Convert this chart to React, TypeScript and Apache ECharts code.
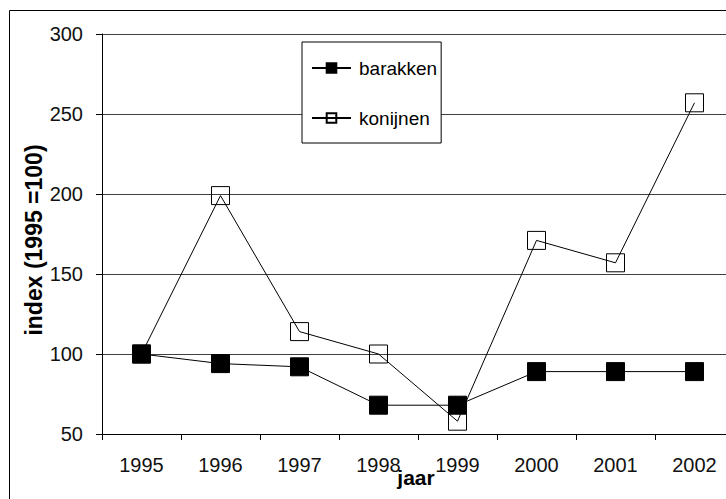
import React, { useEffect, useRef } from "react";
import * as echarts from "echarts";

const years = ["1995", "1996", "1997", "1998", "1999", "2000", "2001", "2002"];
const barakken = [100, 94, 92, 68, 68, 89, 89, 89];
const konijnen = [100, 199, 114, 100, 58, 171, 157, 257];
const yMin = 50;
const yMax = 300;
const yInterval = 50;
const yTitle = "index (1995 =100)";
const xTitle = "jaar";

const FONT = '"Liberation Sans", Arial, sans-serif';

export default function App() {
  const ref = useRef<HTMLDivElement>(null);
  useEffect(() => {
    const chart = echarts.init(ref.current!, null, { renderer: "svg" });
    chart.setOption({
      animation: false,
      backgroundColor: "#fff",
      textStyle: { fontFamily: FONT, color: "#000" },
      grid: { left: 102, top: 34, right: 26, bottom: 65, containLabel: false },
      legend: {
        orient: "vertical",
        left: 302,
        top: 42,
        data: ["barakken", "konijnen"],
        backgroundColor: "#fff",
        borderColor: "#000",
        borderWidth: 1,
        borderRadius: 0,
        padding: [16, 4, 15, 9],
        itemGap: 30,
        itemWidth: 39,
        itemHeight: 12,
        textStyle: {
          fontFamily: FONT,
          fontSize: 19,
          color: "#000",
          lineHeight: 20,
          padding: [0, 0, 0, 3],
        },
      },
      xAxis: {
        type: "category",
        data: years,
        boundaryGap: true,
        axisLine: { show: true, lineStyle: { color: "#000", width: 1 } },
        axisTick: { show: true, interval: 0, length: 6, lineStyle: { color: "#000" } },
        axisLabel: { interval: 0, fontSize: 20, color: "#111", margin: 21, fontFamily: FONT },
        splitLine: { show: false },
      },
      yAxis: {
        type: "value",
        min: yMin,
        max: yMax,
        interval: yInterval,
        axisLine: { show: true, lineStyle: { color: "#000", width: 1 } },
        axisTick: { show: true, length: 6, lineStyle: { color: "#000" } },
        axisLabel: { fontSize: 20, color: "#111", margin: 19, fontFamily: FONT },
        splitLine: { show: true, lineStyle: { color: "#404040", width: 1 } },
      },
      series: [
        {
          name: "konijnen",
          type: "line",
          data: konijnen,
          symbol: "rect",
          symbolSize: 18,
          lineStyle: { color: "#000", width: 1 },
          itemStyle: { color: "rgba(255,255,255,0)", borderColor: "#000", borderWidth: 1 },
          z: 2,
        },
        {
          name: "barakken",
          type: "line",
          data: barakken,
          symbol: "rect",
          symbolSize: 18,
          lineStyle: { color: "#000", width: 1 },
          itemStyle: { color: "#000", borderColor: "#000", borderWidth: 1 },
          z: 3,
        },
      ],
      graphic: [
        {
          type: "rect",
          silent: true,
          z: 100,
          shape: { x: 9.5, y: 10.5, width: 900, height: 700 },
          style: { fill: "none", stroke: "#000", lineWidth: 1 },
        },
        {
          type: "text",
          x: 34,
          y: 240,
          rotation: Math.PI / 2,
          style: {
            text: yTitle,
            font: `bold 23px ${FONT}`,
            fill: "#000",
            align: "center",
            verticalAlign: "middle",
            textAlign: "center",
            textVerticalAlign: "middle",
          },
        },
        {
          type: "text",
          x: 416,
          y: 477,
          style: {
            text: xTitle,
            font: `bold 21px ${FONT}`,
            fill: "#000",
            align: "center",
            verticalAlign: "middle",
            textAlign: "center",
            textVerticalAlign: "middle",
          },
        },
      ],
    });
    return () => chart.dispose();
  }, []);
  return (
    <div
      style={{
        position: "fixed",
        left: 0,
        top: 0,
        width: 726,
        height: 499,
        overflow: "hidden",
        background: "#fff",
      }}
    >
      <div ref={ref} style={{ width: 760, height: 499 }} />
    </div>
  );
}
